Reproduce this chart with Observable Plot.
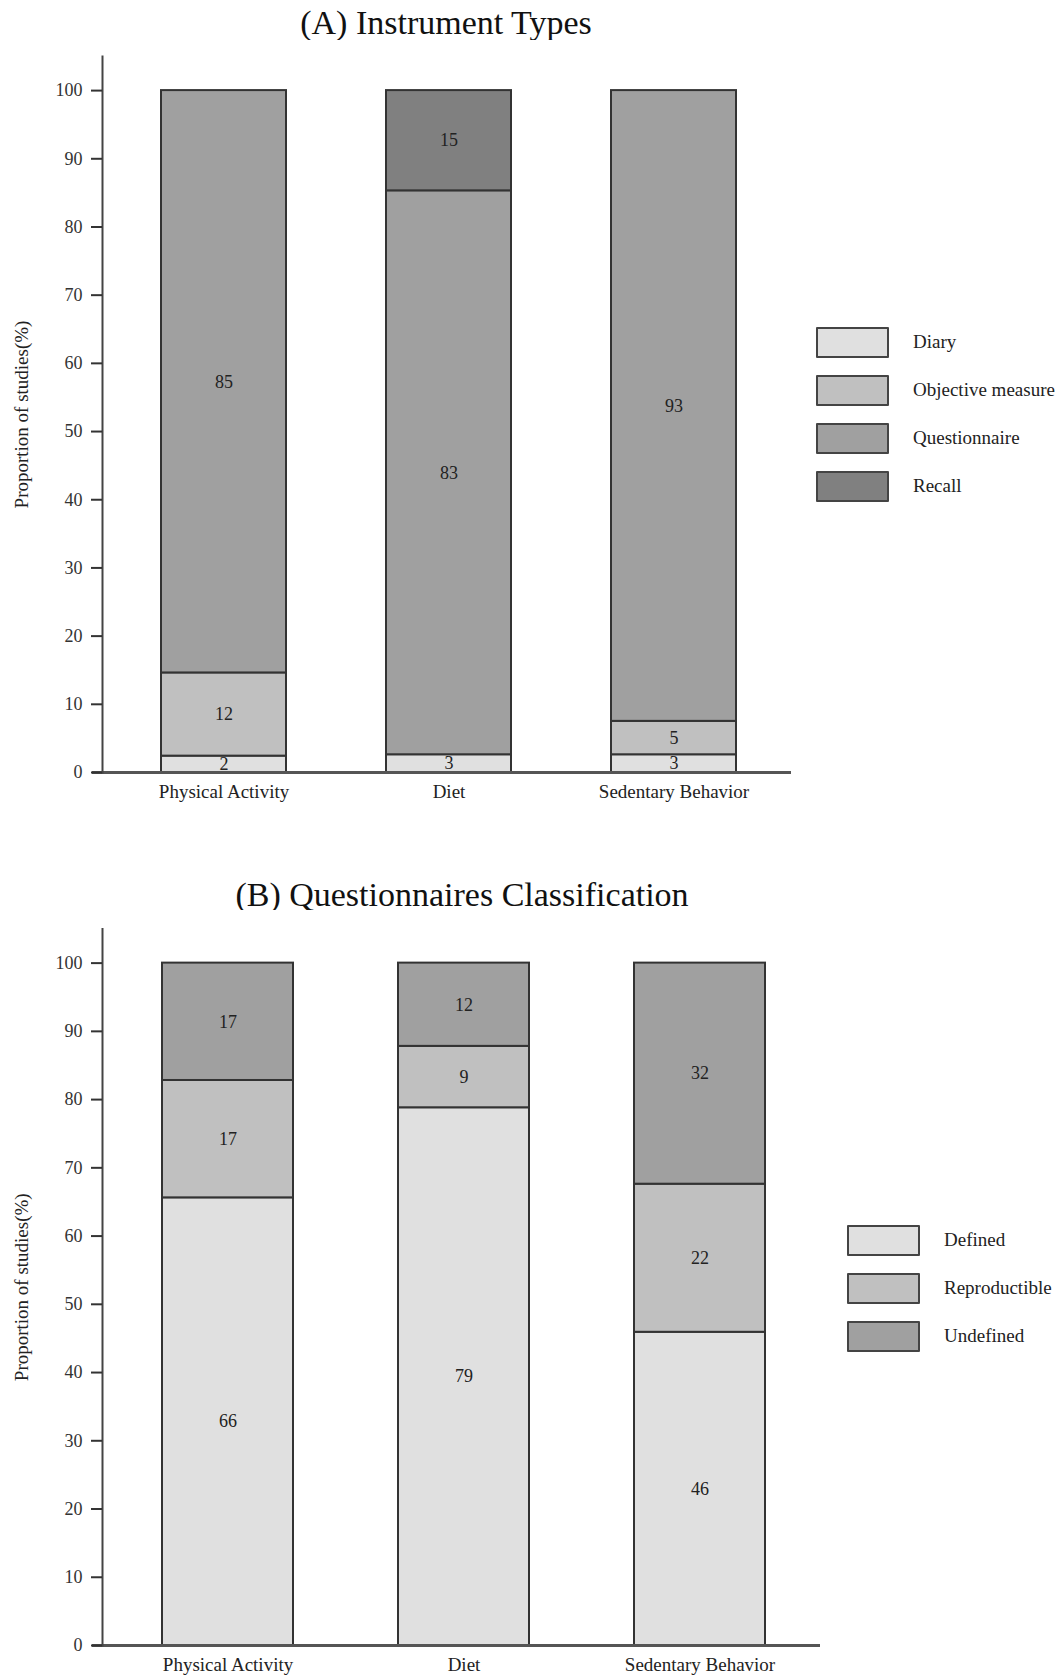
<!DOCTYPE html>
<html><head><meta charset="utf-8">
<script src="https://cdn.jsdelivr.net/npm/d3@7"></script>
<script src="https://cdn.jsdelivr.net/npm/@observablehq/plot@0.6"></script>
<style>
body{margin:0;background:#fff;}
#root{position:relative;width:1061px;height:1677px;font-family:"Liberation Serif","Times New Roman",serif;color:#222;overflow:hidden;}
.title{position:absolute;font-size:34px;line-height:34px;white-space:nowrap;transform:translateX(-50%);color:#111;}
.panel{position:absolute;left:0;}
.row{position:absolute;display:flex;align-items:center;white-space:nowrap;font-size:19px;height:31px;color:#222;}
.sw{box-sizing:border-box;width:73px;height:31px;border:2px solid #444;border-radius:1px;}
.lab{margin-left:24px;}
</style></head><body><div id="root"></div>
<script>
// ---- data ----
const groups = ["Physical Activity", "Diet", "Sedentary Behavior"];
const instrumentTypes = ["Diary", "Objective measure", "Questionnaire", "Recall"];
const instrumentPA = [2.4, 12.2, 85.4, 0];
const instrumentDiet = [2.6, 0, 82.7, 14.7];
const instrumentSB = [2.6, 4.9, 92.5, 0];
const classTypes = ["Defined", "Reproductible", "Undefined"];
const classPA = [65.6, 17.2, 17.2];
const classDiet = [78.8, 9.0, 12.2];
const classSB = [45.9, 21.7, 32.4];
const yTicks = [0, 10, 20, 30, 40, 50, 60, 70, 80, 90, 100];
const titleA = "(A) Instrument Types";
const titleB = "(B) Questionnaires Classification";
const yLabel = "Proportion of studies(%)";
const paletteA = ["#e0e0e0", "#c0c0c0", "#a0a0a0", "#808080"];
const paletteB = ["#e0e0e0", "#c0c0c0", "#a0a0a0"];

function table(types, series) {
  const out = [];
  groups.forEach((g, i) => types.forEach((t, j) => {
    const v = series[i][j];
    if (v > 0) out.push({group: g, type: t, value: v});
  }));
  return out;
}
const dataA = table(instrumentTypes, [instrumentPA, instrumentDiet, instrumentSB]);
const dataB = table(classTypes, [classPA, classDiet, classSB]);

const FONT = "Liberation Serif, Times New Roman, serif";

function panel(data, types, palette, o) {
  return Plot.plot({
    width: 1061, height: o.height,
    marginTop: o.mt, marginBottom: o.mb, marginLeft: 92, marginRight: o.mr,
    style: {fontFamily: FONT, fontSize: "18px", color: "#333", background: "white", overflow: "visible"},
    x: {domain: groups, paddingInner: 0.446, paddingOuter: o.po, align: 0.555, label: null},
    y: {domain: [0, 105], label: null},
    color: {domain: types, range: palette},
    marks: [
      Plot.barY(data, Plot.stackY({x: "group", y: "value", fill: "type", stroke: "#333", strokeWidth: 2})),
      Plot.text(data, Plot.stackY({x: "group", y: "value", text: d => String(Math.round(d.value)), fill: "#222", fontSize: 18, fontFamily: FONT})),
      Plot.ruleY([0], {stroke: "#555", strokeWidth: 3}),
      Plot.frame({anchor: "left", dx: 10, stroke: "#444", strokeWidth: 2}),
      Plot.axisY({ticks: yTicks, tickSize: 11, tickPadding: 9, dx: 10, label: null, fontSize: 18, color: "#333", strokeWidth: 2}),
      Plot.axisX({tickSize: 0, tickPadding: o.xpad, label: null, fontSize: 19, color: "#222"}),
      Plot.text([yLabel], {frameAnchor: "left", textAnchor: "middle", lineAnchor: "middle", dx: -71, rotate: -90, fontSize: 19, fill: "#222", fontFamily: FONT})
    ]
  });
}

const root = document.getElementById("root");

function addTitle(text, cx, top) {
  const d = document.createElement("div");
  d.className = "title";
  d.textContent = text;
  d.style.left = cx + "px";
  d.style.top = top + "px";
  root.appendChild(d);
}
function addPanel(svg, top) {
  const w = document.createElement("div");
  w.className = "panel";
  w.style.top = top + "px";
  w.appendChild(svg);
  root.appendChild(w);
}
function addLegend(types, palette, left, centers) {
  types.forEach((t, i) => {
    const r = document.createElement("div");
    r.className = "row";
    r.style.left = left + "px";
    r.style.top = (centers[i] - 15.5) + "px";
    const s = document.createElement("div");
    s.className = "sw";
    s.style.background = palette[i];
    const l = document.createElement("span");
    l.className = "lab";
    l.textContent = t;
    r.appendChild(s); r.appendChild(l);
    root.appendChild(r);
  });
}

addTitle(titleA, 446, 6);
addPanel(panel(dataA, instrumentTypes, paletteA, {height: 800, mt: 16, mb: 68, mr: 270, po: 0.273, xpad: 12}), 40);
addLegend(instrumentTypes, paletteA, 816, [342, 390, 438, 486]);

addTitle(titleB, 462, 878);
addPanel(panel(dataB, classTypes, paletteB, {height: 767, mt: 18.5, mb: 32, mr: 241, po: 0.262, xpad: 11.5}), 910);
addLegend(classTypes, paletteB, 847, [1240, 1288, 1336]);
</script>
</body></html>
